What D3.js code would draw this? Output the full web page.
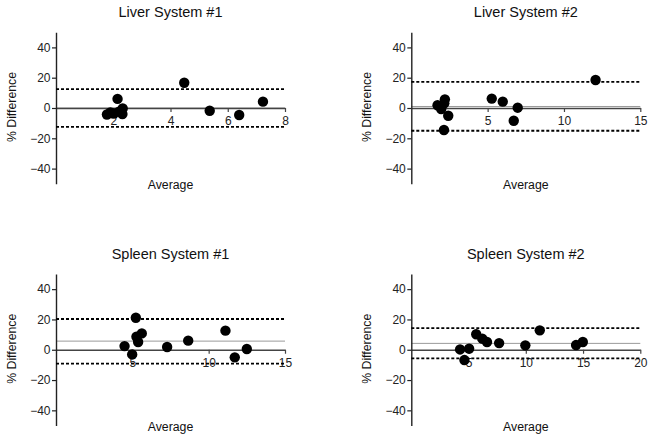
<!DOCTYPE html>
<html>
<head>
<meta charset="utf-8">
<script src="https://cdn.jsdelivr.net/npm/d3@7"></script>
<style>
  html, body { margin: 0; padding: 0; background: #fff; }
  svg { display: block; font-family: "Liberation Sans", Arial, sans-serif; }
</style>
</head>
<body>
<svg id="chart" width="652" height="439"></svg>
<script>
// ---- data ----
const titles = ["Liver System #1", "Liver System #2", "Spleen System #1", "Spleen System #2"];
const xLabel = "Average";
const yLabel = "% Difference";

const liver1Avg  = [1.78, 1.9, 2.02, 2.15, 2.2, 2.33, 2.32, 4.48, 5.37, 6.4, 7.23];
const liver1Diff = [-4.3, -3.0, -3.6, 6.0, -2.4, -0.3, -4.0, 16.7, -1.8, -4.6, 4.2];

const liver2Avg  = [1.72, 1.96, 2.2, 2.16, 2.42, 2.14, 5.27, 5.99, 6.71, 6.97, 12.07];
const liver2Diff = [1.8, -0.7, 5.7, 3.1, -5.1, -14.5, 6.2, 4.2, -8.4, 0.2, 18.5];

const spleen1Avg  = [4.49, 4.99, 5.23, 5.27, 5.38, 5.62, 7.28, 8.66, 11.1, 11.71, 12.5];
const spleen1Diff = [2.4, -3.1, 21.1, 8.6, 5.1, 10.8, 1.8, 6.0, 12.6, -5.0, 0.5];

const spleen2Avg  = [4.26, 4.64, 5.05, 5.67, 6.2, 6.61, 7.67, 9.96, 11.22, 14.39, 14.98];
const spleen2Diff = [0.2, -6.8, 0.7, 10.2, 7.3, 5.1, 4.4, 2.9, 12.8, 3.1, 5.1];

const meanBias = [0, 1, 5.7, 4.2];
const upperLoA = [12.5, 17.2, 20.3, 14.3];
const lowerLoA = [-12.5, -15, -9.2, -5.7];
const xMax = [8, 15, 15, 20];
const xTicks = [[2, 4, 6, 8], [5, 10, 15], [5, 10, 15], [5, 10, 15, 20]];
const yDomain = [-50, 50];
const yTicks = [-40, -20, 0, 20, 40];

const panelAvg = [liver1Avg, liver2Avg, spleen1Avg, spleen2Avg];
const panelDiff = [liver1Diff, liver2Diff, spleen1Diff, spleen2Diff];

// ---- layout ----
const svg = d3.select("#chart");
const plotW = 229, plotH = 151.5;
const lefts = [56, 411.3, 56, 411.3];
const tops = [32.25, 32.25, 274, 274];

titles.forEach((title, i) => {
  const L = lefts[i], T = tops[i];
  const x = d3.scaleLinear().domain([0, xMax[i]]).range([L, L + plotW]);
  const y = d3.scaleLinear().domain(yDomain).range([T + plotH, T]);
  const g = svg.append("g");

  // title
  g.append("text")
    .attr("x", L + plotW / 2).attr("y", T - 14.8)
    .attr("text-anchor", "middle")
    .attr("font-size", 14.5).attr("fill", "#111")
    .text(title);

  // mean bias line
  g.append("line")
    .attr("x1", x(0)).attr("x2", x(xMax[i]))
    .attr("y1", y(meanBias[i])).attr("y2", y(meanBias[i]))
    .attr("stroke", "#9a9a9a").attr("stroke-width", 1);

  // x axis at 0
  const xAxis = g.append("g")
    .attr("transform", `translate(0,${y(0)})`)
    .call(d3.axisBottom(x).tickValues(xTicks[i]).tickSize(4).tickPadding(4.5).tickSizeOuter(0));
  xAxis.select(".domain").attr("stroke", "#444").attr("stroke-width", 1.4);
  xAxis.selectAll(".tick line").attr("stroke", "#444").attr("stroke-width", 1.2);
  xAxis.selectAll(".tick text").attr("font-size", 12).attr("fill", "#222")
    .attr("font-family", "'Liberation Sans', Arial, sans-serif");

  // y axis
  const yAxis = g.append("g")
    .attr("transform", `translate(${L},0)`)
    .call(d3.axisLeft(y).tickValues(yTicks).tickSize(4).tickPadding(1.5).tickSizeOuter(0));
  yAxis.select(".domain").attr("stroke", "#222").attr("stroke-width", 1.4);
  yAxis.selectAll(".tick line").attr("stroke", "#222").attr("stroke-width", 1.2);
  yAxis.selectAll(".tick text").attr("font-size", 12).attr("fill", "#222")
    .attr("font-family", "'Liberation Sans', Arial, sans-serif");

  // limits of agreement (dashed)
  [upperLoA[i], lowerLoA[i]].forEach(v => {
    g.append("line")
      .attr("x1", x(0)).attr("x2", x(xMax[i]))
      .attr("y1", y(v)).attr("y2", y(v))
      .attr("stroke", "#000").attr("stroke-width", 1.8)
      .attr("stroke-dasharray", "3,2");
  });

  // points
  g.selectAll("circle.pt")
    .data(panelAvg[i].map((a, k) => [a, panelDiff[i][k]]))
    .join("circle")
    .attr("class", "pt")
    .attr("cx", d => x(d[0]))
    .attr("cy", d => y(d[1]))
    .attr("r", 5.2)
    .attr("fill", "#000");

  // axis titles
  g.append("text")
    .attr("x", L + plotW / 2).attr("y", T + plotH + 5)
    .attr("text-anchor", "middle")
    .attr("font-size", 12.3).attr("fill", "#111")
    .text(xLabel);

  g.append("text")
    .attr("transform", `translate(${L - 40.5},${y(0) - 1}) rotate(-90)`)
    .attr("text-anchor", "middle")
    .attr("font-size", 12.3).attr("fill", "#111")
    .text(yLabel);
});
</script>
</body>
</html>
